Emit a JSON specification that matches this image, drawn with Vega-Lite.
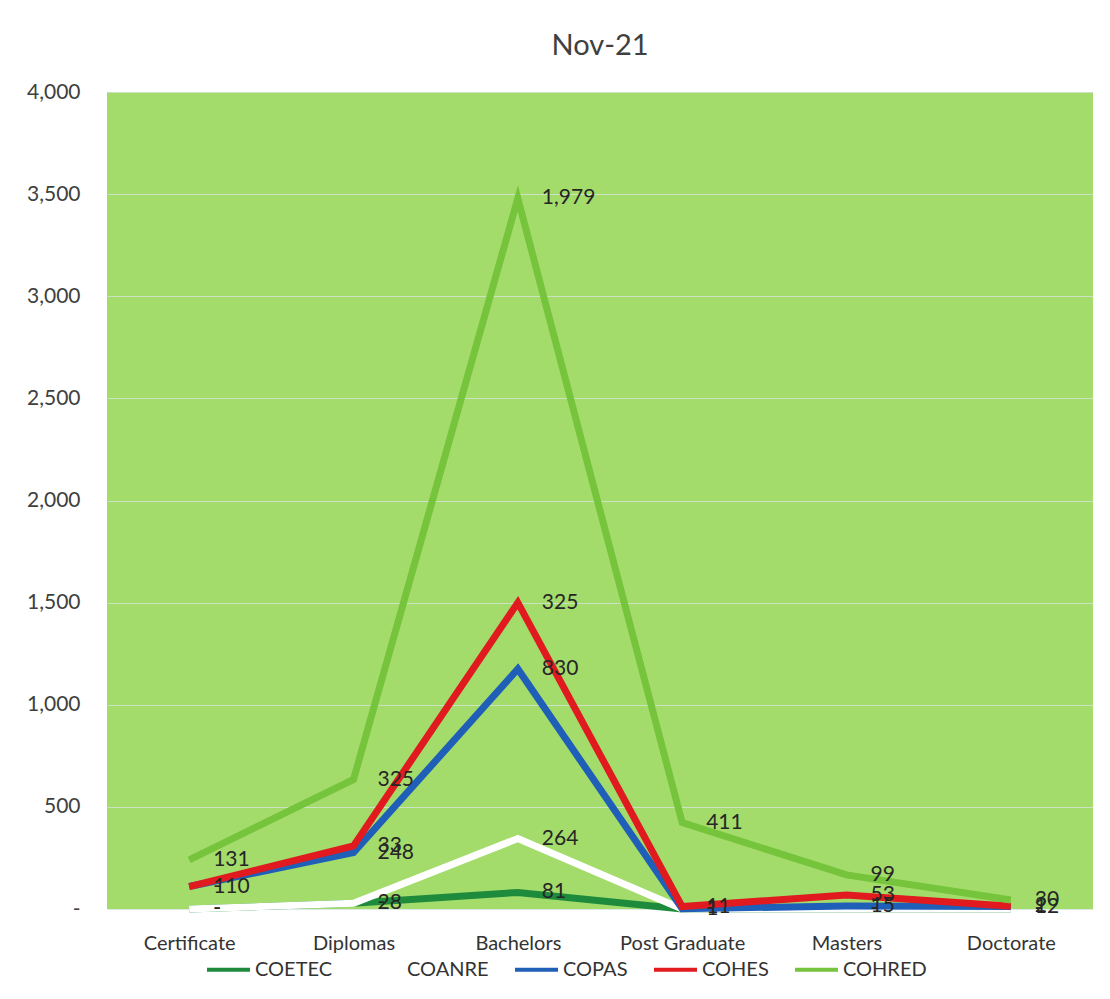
{
  "$schema": "https://vega.github.io/schema/vega-lite/v6.json",
  "width": 986,
  "height": 817,
  "autosize": "none",
  "padding": {"left": 107, "top": 92, "right": 17, "bottom": 90},
  "background": "white",
  "title": {"text": "Nov-21", "fontSize": 29, "font": "Lato", "fontWeight": "normal", "color": "#404040", "offset": 20},
  "config": {
    "view": {"fill": "#a3dc6a", "stroke": null},
    "font": "Lato"
  },
  "data": {"values": [
    {"level": "Certificate", "series": "COETEC", "idx": 0, "value": 0},
    {"level": "Certificate", "series": "COANRE", "idx": 1, "value": 0},
    {"level": "Certificate", "series": "COPAS", "idx": 2, "value": 110},
    {"level": "Certificate", "series": "COHES", "idx": 3, "value": 0},
    {"level": "Certificate", "series": "COHRED", "idx": 4, "value": 131},
    {"level": "Diplomas", "series": "COETEC", "idx": 0, "value": 28},
    {"level": "Diplomas", "series": "COANRE", "idx": 1, "value": 0},
    {"level": "Diplomas", "series": "COPAS", "idx": 2, "value": 248},
    {"level": "Diplomas", "series": "COHES", "idx": 3, "value": 33},
    {"level": "Diplomas", "series": "COHRED", "idx": 4, "value": 325},
    {"level": "Bachelors", "series": "COETEC", "idx": 0, "value": 81},
    {"level": "Bachelors", "series": "COANRE", "idx": 1, "value": 264},
    {"level": "Bachelors", "series": "COPAS", "idx": 2, "value": 830},
    {"level": "Bachelors", "series": "COHES", "idx": 3, "value": 325},
    {"level": "Bachelors", "series": "COHRED", "idx": 4, "value": 1979},
    {"level": "Post Graduate", "series": "COETEC", "idx": 0, "value": 0},
    {"level": "Post Graduate", "series": "COANRE", "idx": 1, "value": 0},
    {"level": "Post Graduate", "series": "COPAS", "idx": 2, "value": 1},
    {"level": "Post Graduate", "series": "COHES", "idx": 3, "value": 11},
    {"level": "Post Graduate", "series": "COHRED", "idx": 4, "value": 411},
    {"level": "Masters", "series": "COETEC", "idx": 0, "value": 0},
    {"level": "Masters", "series": "COANRE", "idx": 1, "value": 0},
    {"level": "Masters", "series": "COPAS", "idx": 2, "value": 15},
    {"level": "Masters", "series": "COHES", "idx": 3, "value": 53},
    {"level": "Masters", "series": "COHRED", "idx": 4, "value": 99},
    {"level": "Doctorate", "series": "COETEC", "idx": 0, "value": 0},
    {"level": "Doctorate", "series": "COANRE", "idx": 1, "value": 0},
    {"level": "Doctorate", "series": "COPAS", "idx": 2, "value": 12},
    {"level": "Doctorate", "series": "COHES", "idx": 3, "value": 2},
    {"level": "Doctorate", "series": "COHRED", "idx": 4, "value": 30}
  ]},
  "transform": [
    {"stack": "value", "groupby": ["level"], "sort": [{"field": "idx", "order": "ascending"}], "as": ["y0", "y1"]}
  ],
  "encoding": {
    "x": {
      "field": "level", "type": "nominal",
      "sort": ["Certificate", "Diplomas", "Bachelors", "Post Graduate", "Masters", "Doctorate"],
      "scale": {"type": "point", "padding": 0.5},
      "axis": {"title": null, "labelAngle": 0, "domain": false, "ticks": false, "labelFontSize": 20, "labelColor": "#333333", "labelPadding": 24, "labelFont": "Lato"}
    },
    "y": {
      "field": "y1", "type": "quantitative",
      "scale": {"domain": [0, 4000], "nice": false},
      "axis": {"title": null, "values": [0, 500, 1000, 1500, 2000, 2500, 3000, 3500, 4000], "labelOverlap": false,
        "labelExpr": "datum.value == 0 ? '-' : format(datum.value, ',')",
        "domain": false, "ticks": false, "labelFontSize": 21, "labelColor": "#404040", "labelPadding": 27,
        "grid": true, "gridColor": "#d4e4dc", "gridOpacity": 0.8, "gridWidth": 1.2}
    }
  },
  "layer": [
    {
      "mark": {"type": "line", "strokeWidth": 7, "strokeJoin": "miter"},
      "encoding": {
        "color": {
          "field": "series", "type": "nominal",
          "scale": {"domain": ["COETEC", "COANRE", "COPAS", "COHES", "COHRED"], "range": ["#1e8a3c", "#ffffff", "#1f5fb8", "#e01a1f", "#76c43c"]},
          "legend": {"title": null, "orient": "none", "legendX": 98, "legendY": 854, "direction": "horizontal", "symbolType": "stroke", "symbolSize": 1849, "symbolStrokeWidth": 4,
            "labelFontSize": 20, "labelColor": "#333333", "labelFont": "Lato", "columnPadding": 18, "labelOffset": 3}
        },
        "order": {"field": "idx"}
      }
    },
    {
      "mark": {"type": "text", "align": "left", "baseline": "middle", "dx": 24, "fontSize": 21, "color": "#262626", "font": "Lato"},
      "encoding": {
        "text": {"condition": {"test": "datum.value == 0", "value": "-"}, "field": "value", "format": ","}
      }
    }
  ]
}
